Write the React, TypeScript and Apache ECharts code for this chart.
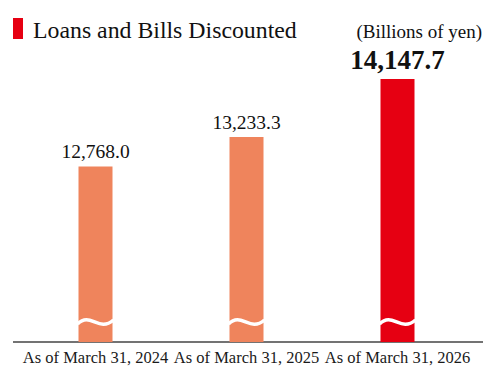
import React, { useEffect, useRef } from "react";
import * as echarts from "echarts";

const categories = ["As of March 31, 2024", "As of March 31, 2025", "As of March 31, 2026"];
const values = [12768.0, 13233.3, 14147.7];
const barColors = ["#EF845C", "#EF845C", "#E60012"];
const yMin = 10000;
const yMax = 15000;
const titleText = "Loans and Bills Discounted";
const unitText = "(Billions of yen)";

const SERIF = '"Liberation Serif", "Times New Roman", serif';

const fmt = (v: number) =>
  v.toLocaleString("en-US", { minimumFractionDigits: 1, maximumFractionDigits: 1 });

export default function App() {
  const ref = useRef<HTMLDivElement>(null);
  useEffect(() => {
    if (!ref.current) return;
    const chart = echarts.init(ref.current, null, { renderer: "svg" });
    const last = values.length - 1;
    chart.setOption({
      animation: false,
      backgroundColor: "#ffffff",
      grid: { left: 20, right: 14, top: 25, bottom: 27 },
      xAxis: {
        type: "category",
        data: categories,
        axisLine: { show: false },
        axisTick: { show: false },
        axisLabel: {
          interval: 0,
          margin: 7,
          fontFamily: SERIF,
          fontSize: 16.5,
          color: "#1a1a1a",
        },
      },
      yAxis: {
        type: "value",
        min: yMin,
        max: yMax,
        show: false,
        splitLine: { show: false },
      },
      series: [
        {
          type: "bar",
          barWidth: 34,
          data: values.map((v, i) => ({
            value: v,
            itemStyle: { color: barColors[i] },
            label: {
              show: true,
              position: "top",
              distance: i === last ? 6 : 5,
              formatter: () => fmt(v),
              fontFamily: SERIF,
              fontSize: i === last ? 27 : 19.5,
              fontWeight: i === last ? "bold" : "normal",
              color: "#111",
            },
          })),
        },
        {
          type: "custom",
          z: 10,
          silent: true,
          data: categories.map((_, i) => [i, yMin]),
          renderItem: (params: any, api: any) => {
            const p = api.coord([api.value(0), api.value(1)]);
            const bw = 34;
            const left = p[0] - bw / 2;
            const right = p[0] + bw / 2;
            const y = p[1] - 21;
            return {
              type: "bezierCurve",
              shape: {
                x1: left - 1,
                y1: y + 3,
                cpx1: left + 12,
                cpy1: y - 10,
                cpx2: right - 14,
                cpy2: y + 12,
                x2: right + 1,
                y2: y - 1,
              },
              style: { stroke: "#ffffff", lineWidth: 3.6, fill: null },
            };
          },
        },
      ],
      graphic: [
        {
          type: "rect",
          shape: { x: 13, y: 18, width: 10, height: 21 },
          style: { fill: "#E60012" },
        },
        {
          type: "text",
          x: 33,
          y: 30,
          style: {
            text: titleText,
            font: `23.8px ${SERIF}`,
            fill: "#111",
            verticalAlign: "middle",
          },
        },
        {
          type: "text",
          x: 482,
          y: 31,
          style: {
            text: unitText,
            font: `19px ${SERIF}`,
            fill: "#111",
            align: "right",
            verticalAlign: "middle",
          },
        },
        {
          type: "line",
          shape: { x1: 13, y1: 342, x2: 483, y2: 342 },
          style: { stroke: "#444", lineWidth: 1.5 },
        },
      ],
    });
    return () => chart.dispose();
  }, []);
  return (
    <div
      ref={ref}
      style={{ position: "fixed", left: 0, top: 0, width: 487, height: 369 }}
    />
  );
}
